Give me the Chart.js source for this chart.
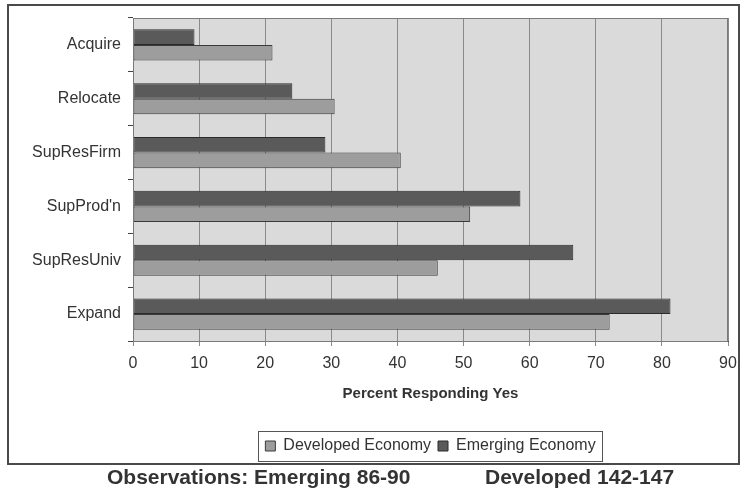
<!DOCTYPE html>
<html>
<head>
<meta charset="utf-8">
<script src="https://cdn.jsdelivr.net/npm/chart.js@4/dist/chart.umd.min.js"></script>
<style>
  html, body { margin: 0; padding: 0; background: #ffffff; }
  body { width: 741px; height: 498px; position: relative; overflow: hidden; font-family: "Liberation Sans", Arial, sans-serif; }
  #frame { position: absolute; left: 7px; top: 4px; width: 729px; height: 457px; border: 2px solid #4a4a4a; }
  #wrap { position: absolute; left: 0; top: 0; width: 741px; height: 498px; }
  .obs { position: absolute; top: 465px; font-weight: bold; font-size: 21px; color: #333; white-space: nowrap; }
</style>
</head>
<body>
<div id="frame"></div>
<div id="wrap"><canvas id="c" width="741" height="498"></canvas></div>
<div class="obs" style="left:107px;">Observations: Emerging 86-90</div>
<div class="obs" style="left:485px;">Developed 142-147</div>
<script>
const categories = ["Acquire", "Relocate", "SupResFirm", "SupProd'n", "SupResUniv", "Expand"];
const emerging = [9.3, 24.1, 29.1, 58.6, 66.6, 81.3];
const developed = [21.1, 30.5, 40.5, 51.0, 46.1, 72.1];
const seriesNames = ["Emerging Economy", "Developed Economy"];
const xTicks = [0, 10, 20, 30, 40, 50, 60, 70, 80, 90];
const xTitle = "Percent Responding Yes";

const plotDecor = {
  id: 'plotDecor',
  beforeDraw(chart) {
    const a = chart.chartArea, ctx = chart.ctx;
    ctx.save();
    ctx.fillStyle = '#dadada';
    ctx.fillRect(a.left, a.top, a.right - a.left, a.bottom - a.top);
    ctx.restore();
  },
  afterDraw(chart) {
    const a = chart.chartArea, ctx = chart.ctx;
    ctx.save();
    ctx.strokeStyle = '#7a7a7a';
    ctx.lineWidth = 1;
    ctx.strokeRect(a.left + 0.5, a.top + 0.5, a.right - a.left - 1, a.bottom - a.top);
    const lg = chart.legend;
    if (lg && lg.legendHitBoxes && lg.legendHitBoxes.length) {
      const hb = lg.legendHitBoxes;
      let l = Infinity, r = -Infinity, t = Infinity, b = -Infinity;
      hb.forEach(h => { l = Math.min(l, h.left); r = Math.max(r, h.left + h.width); t = Math.min(t, h.top); b = Math.max(b, h.top + h.height); });
      ctx.strokeStyle = '#555';
      ctx.lineWidth = 1;
      ctx.strokeRect(Math.round(l - 7) + 0.5, Math.round(t - 7) + 0.5, Math.round(r - l + 14), Math.round(b - t + 14));
    }
    ctx.restore();
  }
};

new Chart(document.getElementById('c'), {
  type: 'bar',
  data: {
    labels: categories,
    datasets: [
      { label: seriesNames[0], data: emerging, backgroundColor: '#5a5a5a', borderColor: '#2b2b2b', borderWidth: 1, borderSkipped: false },
      { label: seriesNames[1], data: developed, backgroundColor: '#9d9d9d', borderColor: '#3a3a3a', borderWidth: 1, borderSkipped: false }
    ]
  },
  options: {
    indexAxis: 'y',
    responsive: false,
    animation: false,
    categoryPercentage: 0.58,
    barPercentage: 1.0,
    layout: { padding: { top: 18, right: 13, left: 0, bottom: 34 } },
    plugins: {
      legend: {
        position: 'bottom',
        fullSize: false,
        reverse: true,
        labels: { boxWidth: 10, boxHeight: 10, padding: 7, color: '#333', font: { family: 'Liberation Sans', size: 16 } }
      },
      tooltip: { enabled: false }
    },
    scales: {
      x: {
        min: 0, max: 90,
        afterBuildTicks(scale) { scale.ticks = xTicks.map(v => ({ value: v })); },
        afterFit(scale) { scale.height = 90; scale.paddingRight = 0; scale.paddingLeft = 0; },
        grid: { color: '#8a8a8a', lineWidth: 1, tickLength: 5, drawTicks: true },
        border: { color: '#444', width: 1 },
        ticks: { color: '#333', font: { family: 'Liberation Sans', size: 16 }, padding: 8, maxRotation: 0 },
        title: { display: true, text: xTitle, color: '#333', font: { family: 'Liberation Sans', size: 15, weight: 'bold' }, padding: { top: 4, bottom: 28 } }
      },
      y: {
        afterFit(scale) { scale.width = 133; },
        grid: { drawOnChartArea: false, color: '#444', tickLength: 5, offset: true },
        border: { color: '#444', width: 1 },
        ticks: { color: '#333', font: { family: 'Liberation Sans', size: 16 }, padding: 7 }
      }
    }
  },
  plugins: [plotDecor]
});
</script>
</body>
</html>
